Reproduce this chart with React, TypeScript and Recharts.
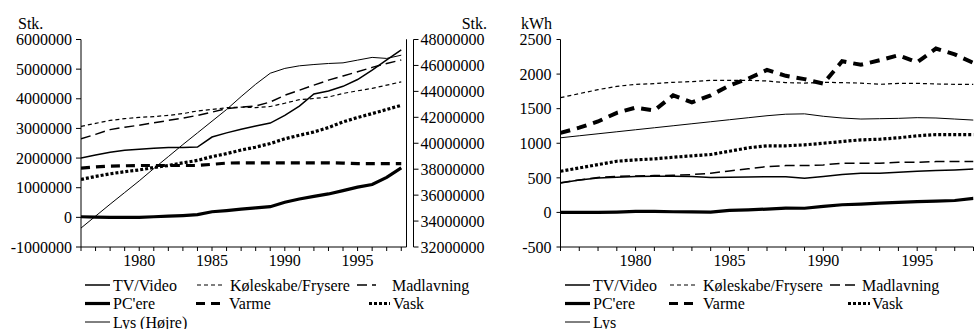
import React from 'react'
import { LineChart, Line, XAxis, YAxis, ReferenceLine } from 'recharts'

// --- data -------------------------------------------------------------
const years = [
  1976, 1977, 1978, 1979, 1980, 1981, 1982, 1983, 1984, 1985, 1986, 1987,
  1988, 1989, 1990, 1991, 1992, 1993, 1994, 1995, 1996, 1997, 1998,
]

// Stk. (left panel), left axis
const stkTv = [
  2000000, 2100000, 2200000, 2260000, 2300000, 2330000, 2360000, 2360000,
  2370000, 2710000, 2850000, 2970000, 3080000, 3180000, 3440000, 3750000,
  4160000, 4260000, 4420000, 4650000, 4970000, 5310000, 5650000,
]
const stkKoel = [
  3070000, 3170000, 3270000, 3330000, 3370000, 3400000, 3440000, 3500000,
  3590000, 3640000, 3700000, 3720000, 3700000, 3740000, 3850000, 3970000,
  4010000, 4060000, 4180000, 4270000, 4350000, 4460000, 4570000,
]
const stkMad = [
  2650000, 2800000, 2960000, 3040000, 3110000, 3190000, 3270000, 3350000,
  3440000, 3550000, 3670000, 3720000, 3760000, 3890000, 4120000, 4290000,
  4460000, 4630000, 4770000, 4910000, 5060000, 5190000, 5310000,
]
const stkPc = [
  20000, 10000, 0, 0, 0, 20000, 40000, 60000, 90000, 190000, 230000, 280000,
  320000, 360000, 510000, 620000, 710000, 790000, 900000, 1020000, 1110000,
  1350000, 1670000,
]
const stkVarme = [
  1660000, 1700000, 1730000, 1740000, 1750000, 1750000, 1750000, 1750000,
  1750000, 1790000, 1830000, 1840000, 1840000, 1840000, 1840000, 1840000,
  1840000, 1840000, 1830000, 1810000, 1810000, 1810000, 1810000,
]
const stkVask = [
  1280000, 1380000, 1470000, 1540000, 1600000, 1680000, 1750000, 1840000,
  1920000, 2050000, 2150000, 2270000, 2370000, 2490000, 2650000, 2770000,
  2880000, 3030000, 3220000, 3370000, 3500000, 3640000, 3780000,
]
// right axis
const stkLys = [
  33460000, 34380000, 35300000, 36200000, 37100000, 38050000, 38970000,
  39900000, 40800000, 41700000, 42600000, 43600000, 44550000, 45400000,
  45770000, 45970000, 46070000, 46150000, 46200000, 46410000, 46620000,
  46540000, 46790000,
]

// kWh (right panel)
const kwhTv = [
  425, 469, 498, 508, 520, 522, 522, 520, 505, 510, 512, 515, 515, 495, 518,
  547, 566, 566, 580, 595, 605, 615, 629,
]
const kwhKoel = [
  1659, 1717, 1775, 1823, 1852, 1862, 1881, 1891, 1910, 1910, 1910, 1900,
  1876, 1870, 1881, 1876, 1870, 1852, 1866, 1866, 1857, 1852, 1852,
]
const kwhMad = [
  430, 469, 505, 520, 527, 532, 537, 547, 566, 600, 630, 663, 677, 677, 687,
  711, 711, 711, 725, 725, 735, 735, 735,
]
const kwhPc = [
  0, 0, 0, 5, 14, 14, 10, 8, 5, 30, 38, 48, 63, 60, 87, 111, 121, 135, 145,
  155, 162, 172, 203,
]
const kwhVarme = [
  1150, 1225, 1315, 1440, 1515, 1475, 1692, 1590, 1692, 1837, 1934, 2060,
  1975, 1927, 1862, 2185, 2135, 2200, 2272, 2170, 2369, 2285, 2161,
]
const kwhVask = [
  595, 643, 692, 740, 760, 774, 798, 818, 837, 885, 934, 963, 963, 977, 1000,
  1025, 1049, 1058, 1079, 1107, 1126, 1126, 1126,
]
const kwhLys = [
  1079, 1108, 1137, 1166, 1195, 1224, 1253, 1282, 1311, 1340, 1369, 1398,
  1420, 1425, 1390, 1365, 1350, 1355, 1360, 1370, 1365, 1350, 1335,
]

const stkTicks = [-1000000, 0, 1000000, 2000000, 3000000, 4000000, 5000000, 6000000]
const stkRightTicks = [
  32000000, 34000000, 36000000, 38000000, 40000000, 42000000, 44000000,
  46000000, 48000000,
]
const kwhTicks = [-500, 0, 500, 1000, 1500, 2000, 2500]

const names = {
  tv: 'TV/Video',
  koel: 'Køleskabe/Frysere',
  mad: 'Madlavning',
  pc: "PC'ere",
  varme: 'Varme',
  vask: 'Vask',
  lys: 'Lys',
}

// line looks, shared by both panels and the legends
const looks: Record<string, { width: number; dash?: string }> = {
  tv: { width: 1.5 },
  koel: { width: 1.2, dash: '4 3' },
  mad: { width: 1.5, dash: '10 5' },
  pc: { width: 3.2 },
  varme: { width: 3.2, dash: '9 6' },
  vask: { width: 3.2, dash: '3 2' },
  lys: { width: 1 },
}

const stkData = years.map((year, i) => ({
  year,
  tv: stkTv[i],
  koel: stkKoel[i],
  mad: stkMad[i],
  pc: stkPc[i],
  varme: stkVarme[i],
  vask: stkVask[i],
  lys: stkLys[i],
}))

const kwhData = years.map((year, i) => ({
  year,
  tv: kwhTv[i],
  koel: kwhKoel[i],
  mad: kwhMad[i],
  pc: kwhPc[i],
  varme: kwhVarme[i],
  vask: kwhVask[i],
  lys: kwhLys[i],
}))

const FONT = '"Liberation Serif", "Times New Roman", serif'
const tickStyle = { fill: '#000', fontSize: 16, fontFamily: FONT }
const yearLabel = (v: number) => (v % 5 === 0 ? String(v) : '')
const STK_X_END = 1998.36

// legend placement: [key, sample x, sample width, text x, row]
type LegendItem = [string, number, number, number, number, string?]
const leftLegend: LegendItem[] = [
  ['tv', 85, 25, 113, 0],
  ['koel', 197, 28, 230, 0],
  ['mad', 357, 19, 392, 0],
  ['pc', 85, 25, 113, 1],
  ['varme', 196, 27, 229, 1],
  ['vask', 369, 21, 393, 1],
  ['lys', 85, 25, 113, 2, 'Lys (Højre)'],
]
const rightLegend: LegendItem[] = [
  ['tv', 565, 25, 593, 0],
  ['koel', 670, 28, 703, 0],
  ['mad', 830, 27, 862, 0],
  ['pc', 565, 25, 593, 1],
  ['varme', 669, 26, 703, 1],
  ['vask', 848, 22, 872, 1],
  ['lys', 565, 25, 593, 2],
]
const legendRows = [285, 303.5, 322]

function LegendBlock({ items }: { items: LegendItem[] }) {
  return (
    <>
      {items.map(([key, sx, sw, tx, row, label]) => {
        const cy = legendRows[row]
        const look = looks[key]
        return (
          <g key={key + sx}>
            <line
              x1={sx}
              x2={sx + sw}
              y1={cy}
              y2={cy}
              stroke="#000"
              strokeWidth={look.width}
              strokeDasharray={look.dash}
            />
            <text x={tx} y={cy + 5.5} fontSize={16} fontFamily={FONT} fill="#000">
              {label ?? names[key as keyof typeof names]}
            </text>
          </g>
        )
      })}
    </>
  )
}

const seriesKeys = ['tv', 'koel', 'mad', 'pc', 'varme', 'vask', 'lys']

export default function App() {
  return (
    <div
      style={{
        position: 'absolute',
        left: 0,
        top: 0,
        width: 980,
        height: 329,
        background: '#fff',
        fontFamily: FONT,
      }}
    >
      {/* left panel: Stk. */}
      <div style={{ position: 'absolute', left: 0, top: 0 }}>
        <LineChart
          width={500}
          height={329}
          data={stkData}
          margin={{ top: 39.5, right: 6.5, bottom: 52, left: 0 }}
        >
          <XAxis
            dataKey="year"
            type="number"
            domain={[1976, STK_X_END]}
            allowDataOverflow
            ticks={years}
            interval={0}
            tickFormatter={yearLabel}
            tickSize={4}
            tickMargin={4}
            height={30}
            stroke="#000"
            tick={tickStyle}
          />
          <YAxis
            yAxisId="left"
            domain={[-1000000, 6000000]}
            ticks={stkTicks}
            interval={0}
            allowDataOverflow
            width={81}
            tickSize={5}
            tickMargin={4}
            stroke="#000"
            tick={tickStyle}
            label={{
              content: ({ viewBox }: any) => (
                <text x={viewBox.x + 18} y={viewBox.y - 11} fontSize={16} fontFamily={FONT} fill="#000">
                  Stk.
                </text>
              ),
            }}
          />
          {/* spacer between plot edge and the right-hand axis */}
          <YAxis
            yAxisId="edge"
            orientation="right"
            type="number"
            domain={[0, 1]}
            width={7}
            tick={false}
            tickLine={false}
            stroke="#000"
          />
          <YAxis
            yAxisId="right"
            orientation="right"
            domain={[32000000, 48000000]}
            ticks={stkRightTicks}
            interval={0}
            allowDataOverflow
            width={80}
            tickSize={5}
            tickMargin={2}
            stroke="#000"
            tick={tickStyle}
            label={{
              content: ({ viewBox }: any) => (
                <text
                  x={viewBox.x + 73.5}
                  y={viewBox.y - 11}
                  textAnchor="end"
                  fontSize={16}
                  fontFamily={FONT}
                  fill="#000"
                >
                  Stk.
                </text>
              ),
            }}
          />
          <ReferenceLine yAxisId="left" x={STK_X_END} stroke="#000" strokeWidth={1} />
          {seriesKeys.map((k) => (
            <Line
              key={k}
              yAxisId={k === 'lys' ? 'right' : 'left'}
              dataKey={k}
              name={k === 'lys' ? 'Lys (Højre)' : names[k as keyof typeof names]}
              type="linear"
              stroke="#000"
              strokeWidth={looks[k].width}
              strokeDasharray={looks[k].dash}
              dot={false}
              activeDot={false}
              isAnimationActive={false}
            />
          ))}
        </LineChart>
      </div>

      {/* right panel: kWh */}
      <div style={{ position: 'absolute', left: 500, top: 0 }}>
        <LineChart
          width={480}
          height={329}
          data={kwhData}
          margin={{ top: 39.5, right: 6.5, bottom: 52, left: 0 }}
        >
          <XAxis
            dataKey="year"
            type="number"
            domain={[1976, 1998]}
            allowDataOverflow
            ticks={years}
            interval={0}
            tickFormatter={yearLabel}
            tickSize={4}
            tickMargin={4}
            height={30}
            stroke="#000"
            tick={tickStyle}
          />
          <YAxis
            domain={[-500, 2500]}
            ticks={kwhTicks}
            interval={0}
            allowDataOverflow
            width={60.5}
            tickSize={4}
            tickMargin={5}
            stroke="#000"
            tick={tickStyle}
            label={{
              content: ({ viewBox }: any) => (
                <text
                  x={viewBox.x + 52}
                  y={viewBox.y - 11}
                  textAnchor="end"
                  fontSize={16}
                  fontFamily={FONT}
                  fill="#000"
                >
                  kWh
                </text>
              ),
            }}
          />
          {seriesKeys.map((k) => (
            <Line
              key={k}
              dataKey={k}
              name={names[k as keyof typeof names]}
              type="linear"
              stroke="#000"
              strokeWidth={k === 'varme' ? 4 : looks[k].width}
              strokeDasharray={k === 'varme' ? '10 7' : looks[k].dash}
              dot={false}
              activeDot={false}
              isAnimationActive={false}
            />
          ))}
        </LineChart>
      </div>

      {/* legends */}
      <svg
        width={980}
        height={329}
        style={{ position: 'absolute', left: 0, top: 0, pointerEvents: 'none' }}
      >
        <LegendBlock items={leftLegend} />
        <LegendBlock items={rightLegend} />
      </svg>
    </div>
  )
}
